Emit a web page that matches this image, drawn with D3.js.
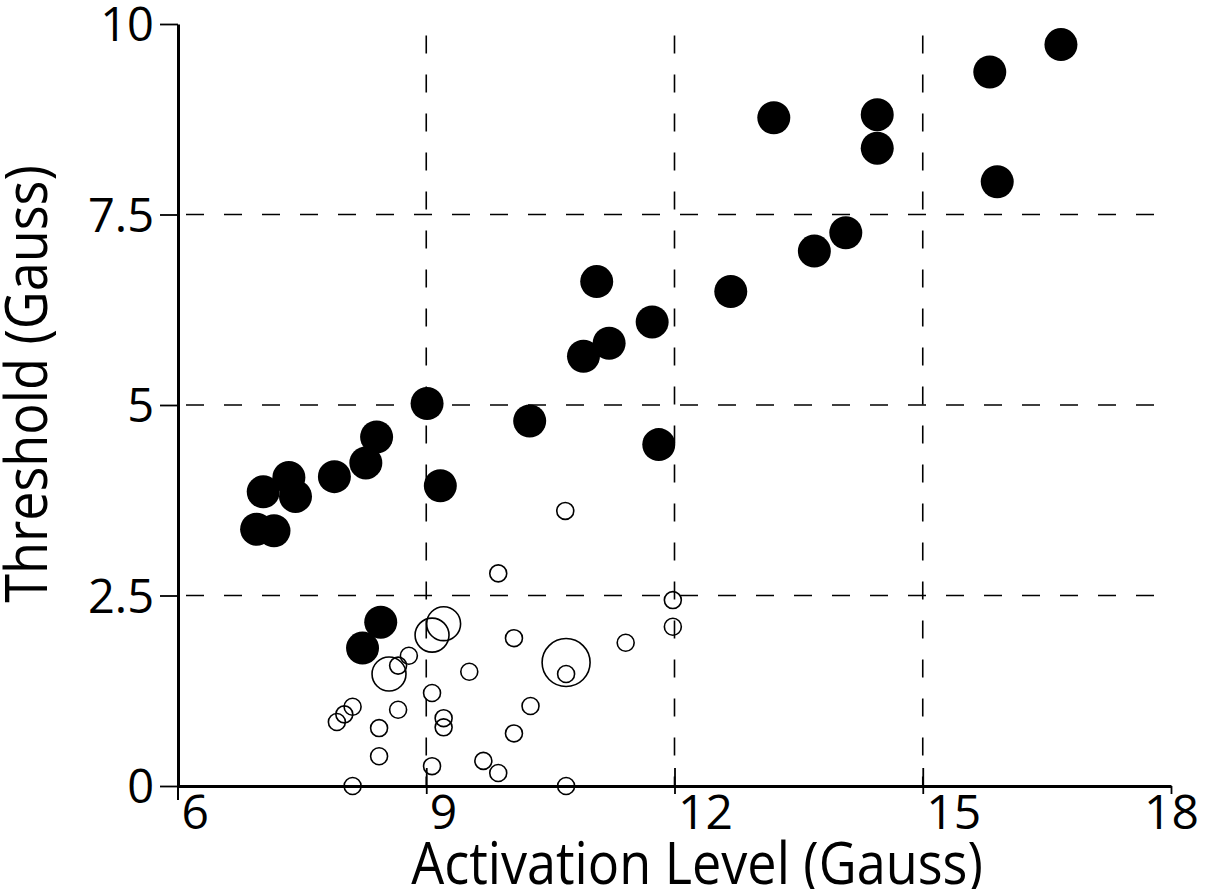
<!DOCTYPE html>
<html>
<head>
<meta charset="utf-8">
<script src="https://cdn.jsdelivr.net/npm/d3@7"></script>
<style>
  body { margin: 0; background: #fff; }
  text { font-family: "Open Sans", "Liberation Sans", sans-serif; fill: #000; }
</style>
</head>
<body>
<div id="chart"></div>
<script>
// size of the whole picture
const svgwidth = 1208;
const svgheight = 889;

// ticks shown on the axes
const xTicks = [6, 9, 12, 15, 18];
const yTicks = [0, 2.5, 5, 7.5, 10];
const xGrid = [9, 12, 15];
const yGrid = [2.5, 5, 7.5];

// filled dots: activation level vs threshold
const filledX = [6.95, 7.16, 7.03, 7.34, 7.42, 7.89, 8.27, 8.40, 9.01, 9.17,
  10.25, 10.90, 11.06, 11.21, 11.73, 11.81, 12.68, 13.20, 13.69, 14.07,
  14.45, 14.45, 15.81, 15.90, 16.67, 8.45, 8.23];
const filledY = [3.37, 3.35, 3.86, 4.05, 3.80, 4.06, 4.24, 4.58, 5.02, 3.94,
  4.79, 5.64, 6.62, 5.81, 6.09, 4.48, 6.49, 8.77, 7.02, 7.26,
  8.81, 8.37, 9.37, 7.93, 9.73, 2.15, 1.81];

// open dots, weight = how many points stacked there
const openX = [9.87, 11.98, 11.98, 9.21, 9.07, 10.06, 11.41, 10.69, 10.69, 8.79,
  8.66, 8.55, 9.52, 9.07, 8.11, 8.01, 7.92, 8.66, 10.26, 8.43,
  9.21, 9.21, 10.06, 8.43, 9.07, 9.69, 9.87, 8.11, 10.69, 10.68];
const openY = [2.79, 2.44, 2.09, 2.13, 1.98, 1.94, 1.88, 1.62, 1.47, 1.71,
  1.58, 1.47, 1.50, 1.22, 1.04, 0.94, 0.84, 1.00, 1.05, 0.76,
  0.89, 0.77, 0.69, 0.39, 0.26, 0.33, 0.17, 0.00, 0.00, 3.61];
const openW = [1, 1, 1, 4, 4, 1, 1, 8, 1, 1,
  1, 4, 1, 1, 1, 1, 1, 1, 1, 1,
  1, 1, 1, 1, 1, 1, 1, 1, 1, 1];

var filled = filledX.map((d, i) => ({x: d, y: filledY[i]}));
var open = openX.map((d, i) => ({x: d, y: openY[i], w: openW[i]}));

var svg = d3.select("#chart")
  .append("svg")
  .attr("width", svgwidth)
  .attr("height", svgheight);

// scales
var x = d3.scaleLinear().domain([6, 18]).range([178, 1171]);
var y = d3.scaleLinear().domain([0, 10]).range([786, 24]);
var r = d3.scaleSqrt().domain([0, 8]).range([0, 24]);

// dashed grid lines
svg.append("g").selectAll("line")
  .data(yGrid)
  .enter()
  .append("line")
  .attr("x1", x(6)).attr("x2", x(18))
  .attr("y1", d => y(d)).attr("y2", d => y(d))
  .attr("stroke", "#000")
  .attr("stroke-width", 1.6)
  .attr("stroke-dasharray", "18,20")
  .attr("stroke-dashoffset", -8);

svg.append("g").selectAll("line")
  .data(xGrid)
  .enter()
  .append("line")
  .attr("x1", d => x(d)).attr("x2", d => x(d))
  .attr("y1", y(9.85)).attr("y2", y(0))
  .attr("stroke", "#000")
  .attr("stroke-width", 1.6)
  .attr("stroke-dasharray", "18,21");

// x axis
var xAxis = svg.append("g")
  .attr("transform", `translate(0, ${y(0)})`)
  .call(d3.axisBottom(x).tickValues(xTicks).tickSizeOuter(0).tickFormat(d3.format("d")));
xAxis.select(".domain").attr("stroke-width", 3);
xAxis.selectAll(".tick line")
  .attr("y1", d => d === 6 ? 0 : (d === 18 ? 0 : -18))
  .attr("y2", d => d === 6 ? 0 : 8)
  .attr("stroke-width", 1.8);
xAxis.selectAll(".tick text")
  .attr("font-size", 48)
  .attr("font-family", null)
  .attr("y", 43)
  .attr("dy", null)
  .attr("x", d => d === 18 ? 0 : 3)
  .attr("text-anchor", d => d === 18 ? "middle" : "start");

// y axis
var yAxis = svg.append("g")
  .attr("transform", `translate(${x(6)}, 0)`)
  .call(d3.axisLeft(y).tickValues(yTicks).tickSize(18).tickPadding(6)
    .tickSizeOuter(0).tickFormat(d3.format("")));
yAxis.select(".domain").attr("stroke-width", 3);
yAxis.selectAll(".tick line").attr("stroke-width", 1.8);
yAxis.selectAll(".tick text")
  .attr("font-size", 47)
  .attr("font-family", null)
  .attr("dy", "0.36em");
// the y axis runs a little past the x axis
yAxis.append("line")
  .attr("x1", 0).attr("x2", 0)
  .attr("y1", y(0)).attr("y2", y(0) + 14)
  .attr("stroke", "#000")
  .attr("stroke-width", 2);

// open dots
svg.append("g").selectAll("circle")
  .data(open)
  .enter()
  .append("circle")
  .attr("cx", d => x(d.x))
  .attr("cy", d => y(d.y))
  .attr("r", d => r(d.w))
  .attr("fill", "none")
  .attr("stroke", "#000")
  .attr("stroke-width", 1.6);

// filled dots
svg.append("g").selectAll("circle")
  .data(filled)
  .enter()
  .append("circle")
  .attr("cx", d => x(d.x))
  .attr("cy", d => y(d.y))
  .attr("r", 16.5)
  .attr("fill", "#000");

// axis titles (squeezed a bit to look like a condensed face)
svg.append("text")
  .attr("transform", "translate(697, 884) scale(0.9, 1)")
  .attr("text-anchor", "middle")
  .attr("font-size", 58)
  .text("Activation Level (Gauss)");

svg.append("text")
  .attr("transform", "translate(47, 384) rotate(-90) scale(0.9, 1)")
  .attr("text-anchor", "middle")
  .attr("font-size", 58)
  .text("Threshold (Gauss)");
</script>
</body>
</html>
